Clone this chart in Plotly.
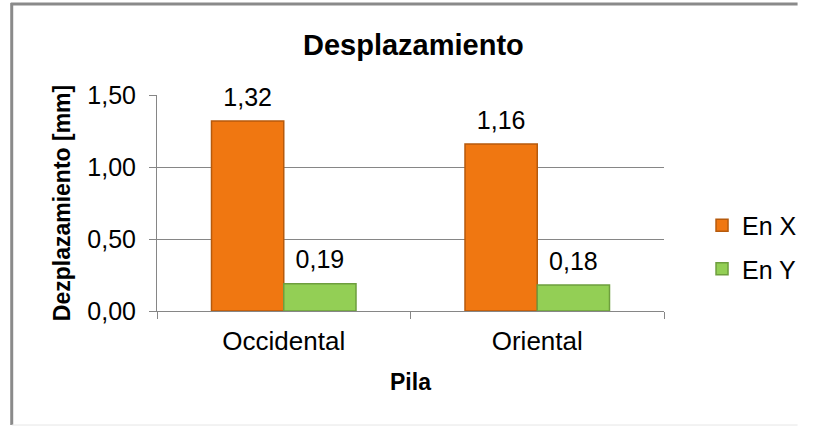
import plotly.graph_objects as go

# datos
pilas = ["Occidental", "Oriental"]
en_x = [1.32, 1.16]
en_y = [0.19, 0.18]
y_ticks = [0.0, 0.5, 1.0, 1.5]

FONT = "Arial, Liberation Sans, sans-serif"
W, H = 814, 427
ML, MR, MT, MB = 157, 137, 95, 116
TXT = 25


def px_x(px):
    return (px - ML) / (W - ML - MR)


def px_y(py):
    return (H - MB - py) / (H - MT - MB)


fig = go.Figure()

series = [
    ("En X", en_x, "#F07711", "#B65A0C"),
    ("En Y", en_y, "#93CF55", "#6E9E3E"),
]
for name, vals, color, edge in series:
    fig.add_trace(go.Bar(
        x=pilas, y=vals, name=name, legendgroup=name, offsetgroup=name,
        marker=dict(color=color, line=dict(color=edge, width=1.5)),
        hoverinfo="skip",
    ))
for name, vals, color, edge in series:
    # etiquetas de datos, separadas de la barra como en Excel
    fig.add_trace(go.Scatter(
        x=pilas, y=vals, offsetgroup=name, showlegend=False,
        mode="markers+text", marker=dict(size=13, opacity=0),
        texttemplate="%{y:.2f}", textposition="top center",
        textfont=dict(size=TXT, color="#000000", family=FONT),
        cliponaxis=False, hoverinfo="skip",
    ))

fig.update_layout(
    width=W, height=H,
    margin=dict(l=ML, r=MR, t=MT, b=MB),
    paper_bgcolor="white", plot_bgcolor="white",
    separators=",.",
    barmode="group", bargap=0.43, bargroupgap=0,
    scattermode="group",
    font=dict(family=FONT, size=TXT, color="#000000"),
    title=dict(
        text="<b>Desplazamiento</b>",
        x=px_x(420), xref="paper", xanchor="center",
        y=1 - 45 / H, yanchor="middle",
        font=dict(size=29, family=FONT, color="#000000"),
    ),
    legend=dict(
        x=px_x(716), y=px_y(247), xanchor="left", yanchor="middle",
        font=dict(size=TXT, family=FONT), tracegroupgap=8,
        itemwidth=30, bgcolor="rgba(0,0,0,0)",
    ),
    showlegend=True,
)

fig.update_xaxes(
    showline=True, linecolor="#868686", linewidth=1,
    ticks="outside", tickson="boundaries", ticklen=7, tickcolor="#868686",
    tickfont=dict(size=26, family=FONT), ticklabelstandoff=7,
    title=dict(text="<b>Pila</b>", font=dict(size=23, family=FONT), standoff=18),
)
fig.update_yaxes(
    range=[0, 1.5], tickvals=y_ticks, tickformat=".2f",
    showline=True, linecolor="#868686", linewidth=1,
    ticks="outside", ticklen=7, tickcolor="#868686",
    showgrid=True, gridcolor="#868686", gridwidth=1,
    zeroline=False, ticklabelstandoff=8,
    tickfont=dict(size=TXT, family=FONT),
    title=dict(text="<b>Dezplazamiento [mm]</b>", font=dict(size=23, family=FONT), standoff=10),
)

# marco del gráfico
fig.add_shape(type="line", xref="paper", yref="paper",
              x0=px_x(8), x1=px_x(8), y0=px_y(3), y1=px_y(425),
              line=dict(color="#8A8A8A", width=3))
fig.add_shape(type="line", xref="paper", yref="paper",
              x0=px_x(7), x1=px_x(814), y0=px_y(4), y1=px_y(4),
              line=dict(color="#8A8A8A", width=3))
fig.add_shape(type="line", xref="paper", yref="paper",
              x0=px_x(8), x1=px_x(814), y0=px_y(425), y1=px_y(425),
              line=dict(color="#E6E6E6", width=1))

fig.write_html(
    "out.html",
    config={"displayModeBar": False},
    post_script=(
        "document.body.style.margin='0px';"
        "document.body.style.overflow='hidden';"
        "document.documentElement.style.overflow='hidden';"
    ),
)
